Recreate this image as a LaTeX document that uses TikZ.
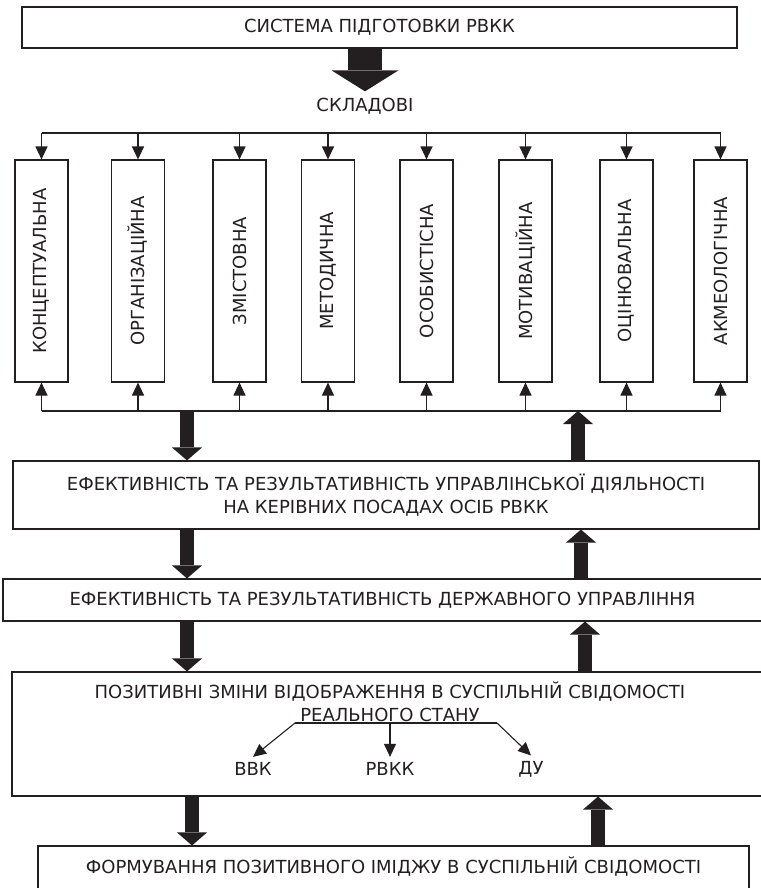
\documentclass[tikz,border=0pt]{standalone}
\usepackage{fontspec}
\setmainfont{DejaVu Sans}
\usepackage{graphicx}
\usetikzlibrary{arrows.meta,positioning}
\definecolor{ink}{RGB}{35,31,32}

\begin{document}
\begin{tikzpicture}[x=1pt,y=-1pt,line width=1.1pt,font=\fontsize{18}{23}\selectfont,
 box/.style={draw=ink,text=ink,inner sep=0pt},
 txt/.style={text=ink,inner sep=0pt},
 thin/.style={draw=ink,-{Triangle[length=13pt,width=12pt]}},
 fat/.style={draw=ink,line width=14pt,-{Triangle[length=13pt,width=30pt,line width=0pt]}}]
\useasboundingbox (0,0) rectangle (760,888);
% system and its components
\node[box,minimum width=715,minimum height=41] (sys) at (379.5,27.5) {СИСТЕМА ПІДГОТОВКИ РВКК};
\node[txt] (skl) at (365,106) {СКЛАДОВІ};
\draw[draw=ink,line width=34pt,-{Triangle[length=21pt,width=67pt,line width=0pt]}] (sys.south -| skl) -- ([yshift=6pt]skl.north);
\coordinate (dtop) at (0,133);
\coordinate (dbot) at (0,411);
\foreach \x/\t [count=\i] in {41.5/КОНЦЕПТУАЛЬНА,138/ОРГАНІЗАЦІЙНА,239.5/ЗМІСТОВНА,328/МЕТОДИЧНА,426.5/ОСОБИСТІСНА,525.5/МОТИВАЦІЙНА,626.5/ОЦІНЮВАЛЬНА,720.5/АКМЕОЛОГІЧНА}{
 \node[box,minimum width=53,minimum height=222] (c\i) at (\x,271) {\rotatebox{90}{\t}};
 \draw[thin] (c\i |- dtop) -- (c\i.north);
 \draw[thin] (c\i |- dbot) -- (c\i.south);
}
\draw[ink] (c1 |- dtop) -- (c8 |- dtop);
\draw[ink] (c1 |- dbot) -- (c8 |- dbot);
% results
\node[box,align=center,minimum width=746,minimum height=68] (eff) at (386,495) {ЕФЕКТИВНІСТЬ ТА РЕЗУЛЬТАТИВНІСТЬ УПРАВЛІНСЬКОЇ ДІЯЛЬНОСТІ\\НА КЕРІВНИХ ПОСАДАХ ОСІБ РВКК};
\node[box,minimum width=759,minimum height=42] (gov) at (382.5,600) {ЕФЕКТИВНІСТЬ ТА РЕЗУЛЬТАТИВНІСТЬ ДЕРЖАВНОГО УПРАВЛІННЯ};
\node[box,minimum width=750,minimum height=124] (pos) at (387,734) {};
\node[txt,align=center] (postxt) at (390,702) {ПОЗИТИВНІ ЗМІНИ ВІДОБРАЖЕННЯ В СУСПІЛЬНІЙ СВІДОМОСТІ\\РЕАЛЬНОГО СТАНУ};
\node[box,minimum width=711,text height=27pt,text depth=30pt,anchor=base] (form) at (393.5,873) {ФОРМУВАННЯ ПОЗИТИВНОГО ІМІДЖУ В СУСПІЛЬНІЙ СВІДОМОСТІ};
% branches
\coordinate (bl) at (295,723);
\coordinate (bm) at (390,723);
\coordinate (br) at (497,723);
\node[txt,inner sep=5pt] (vvk) at (253,769) {ВВК};
\node[txt,inner sep=5pt] (rvkk) at (390,769) {РВКК};
\node[txt,inner sep=5pt] (du) at (531,769) {ДУ};
\draw[ink] (bl) -- (br);
\draw[thin] (bl) -- (vvk.north);
\draw[thin] (bm) -- (rvkk.north);
\draw[thin] (br) -- (du.north);
% links between levels
\draw[fat] (187,0 |- dbot) -- (187,0 |- eff.north);
\draw[fat] (578,0 |- eff.north) -- (578,0 |- dbot);
\draw[fat] (187,0 |- eff.south) -- (187,0 |- gov.north);
\draw[fat] (581,0 |- gov.north) -- (581,0 |- eff.south);
\draw[fat] (187,0 |- gov.south) -- (187,0 |- pos.north);
\draw[fat] (585,0 |- pos.north) -- (585,0 |- gov.south);
\draw[fat] (192,0 |- pos.south) -- (192,0 |- form.north);
\draw[fat] (598,0 |- form.north) -- (598,0 |- pos.south);
\end{tikzpicture}
\end{document}
